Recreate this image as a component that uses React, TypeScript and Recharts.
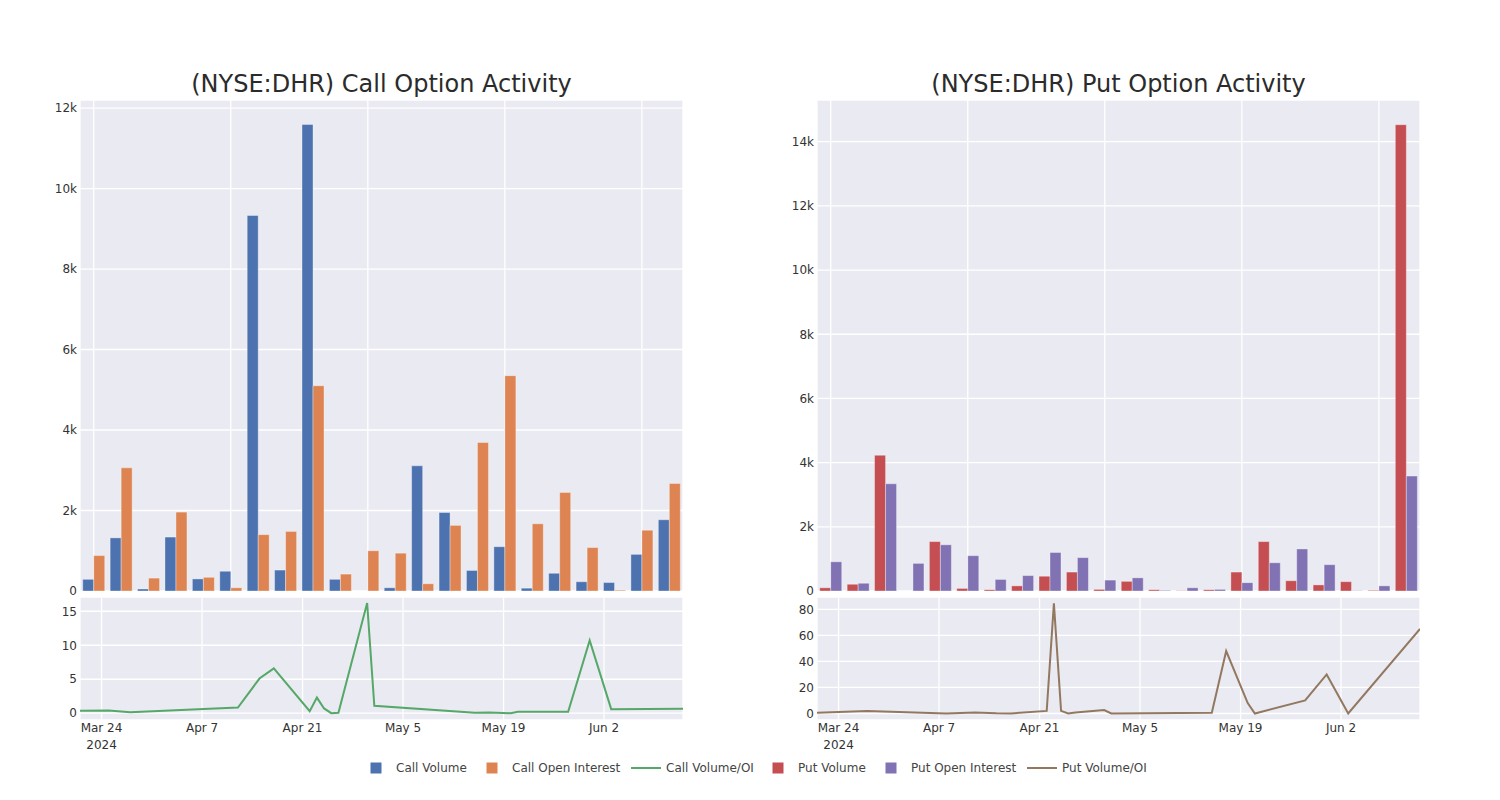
import React from "react";
import { BarChart, Bar, XAxis, YAxis, CartesianGrid, LineChart, Line } from "recharts";

// ---- data ----
const dates = [
  "2024-03-21", "2024-03-25", "2024-03-28", "2024-04-08", "2024-04-12", "2024-04-15",
  "2024-04-17", "2024-04-22", "2024-04-23", "2024-04-24", "2024-04-25", "2024-04-26",
  "2024-04-30", "2024-05-01", "2024-05-15", "2024-05-17", "2024-05-20", "2024-05-21",
  "2024-05-28", "2024-05-31", "2024-06-03", "2024-06-13",
];
const callVolume = [290, 1320, 50, 1340, 300, 490, 9330, 520, 11590, 290, 0, 80, 3110, 1950, 510, 1100, 70, 440, 230, 210, 910, 1770];
const callOpenInterest = [880, 3060, 320, 1960, 340, 80, 1400, 1480, 5100, 420, 1000, 940, 180, 1630, 3690, 5350, 1670, 2450, 1080, 20, 1510, 2670];
const callVolumeOI = [0.35, 0.4, 0.15, 0.65, 0.83, 5.1, 6.6, 0.3, 2.3, 0.7, 0, 0.05, 16.2, 1.1, 0.05, 0.1, 0, 0.2, 0.2, 10.7, 0.6, 0.65];
const putVolume = [100, 210, 4230, 0, 1540, 80, 40, 160, 460, 590, 50, 300, 40, 10, 40, 590, 1540, 320, 190, 290, 20, 14530];
const putOpenInterest = [910, 240, 3340, 860, 1440, 1100, 360, 480, 1200, 1040, 340, 410, 20, 100, 50, 260, 880, 1310, 820, 10, 160, 3580];
const putVolumeOI = [0.5, 1.3, 2, 0, 0.8, 0.1, 0, 2, 84.6, 2, 0, 0.8, 2.6, 0, 0.5, 48, 8, 0, 10, 30, 0, 65];

const callBarTicks = [0, 2000, 4000, 6000, 8000, 10000, 12000];
const putBarTicks = [0, 2000, 4000, 6000, 8000, 10000, 12000, 14000];
const callRatioTicks = [0, 5, 10, 15];
const putRatioTicks = [0, 20, 40, 60, 80];
const dateTickLabels = ["2024-03-24", "2024-04-07", "2024-04-21", "2024-05-05", "2024-05-19", "2024-06-02"];
const barGridIndices = [0, 5, 10, 15, 20];

const titles = ["(NYSE:DHR) Call Option Activity", "(NYSE:DHR) Put Option Activity"];

// ---- styling ----
const FONT = "'DejaVu Sans', Verdana, sans-serif";
const BG = "#eaeaf2";
const TEXT = "#333";
const C_BLUE = "#4c72b0";
const C_ORANGE = "#dd8452";
const C_GREEN = "#55a868";
const C_RED = "#c44e52";
const C_PURPLE = "#8172b3";
const C_BROWN = "#937860";
const MONTHS = ["Jan", "Feb", "Mar", "Apr", "May", "Jun", "Jul", "Aug", "Sep", "Oct", "Nov", "Dec"];

const toTs = (d: string) => Date.parse(d + "T00:00:00Z");

const callRows = dates.map((d, i) => ({ date: d, vol: callVolume[i], oi: callOpenInterest[i] }));
const putRows = dates.map((d, i) => ({ date: d, vol: putVolume[i], oi: putOpenInterest[i] }));
const callRatioRows = dates.map((d, i) => ({ t: toTs(d), r: callVolumeOI[i] }));
const putRatioRows = dates.map((d, i) => ({ t: toTs(d), r: putVolumeOI[i] }));
const barGridDates = barGridIndices.map((i) => dates[i]);
const dateTicks = dateTickLabels.map(toTs);
const dateDomain = [toTs(dates[0]), toTs(dates[dates.length - 1])];

const kFmt = (v: number) => (v === 0 ? "0" : `${v / 1000}k`);

const DateTick = (props: any) => {
  const { x, y, payload, index } = props;
  const d = new Date(payload.value);
  const label = `${MONTHS[d.getUTCMonth()]} ${d.getUTCDate()}`;
  return (
    <g>
      <text x={x} y={y + 12} textAnchor="middle" fontSize={12} fontFamily={FONT} fill={TEXT}>
        {label}
      </text>
      {index === 0 && (
        <text x={x} y={y + 29} textAnchor="middle" fontSize={12} fontFamily={FONT} fill={TEXT}>
          {d.getUTCFullYear()}
        </text>
      )}
    </g>
  );
};

const yTick = { fontSize: 12, fontFamily: FONT, fill: TEXT };

function BarPanel({ rows, c1, c2, domainMax, ticks }: any) {
  return (
    <BarChart
      width={700}
      height={600}
      data={rows}
      margin={{ top: 100, right: 17, bottom: 9, left: 0 }}
      barCategoryGap="10%"
      barGap={0}
    >
      <CartesianGrid fill={BG} fillOpacity={1} stroke="#ffffff" strokeWidth={1.3} />
      <XAxis dataKey="date" type="category" hide ticks={barGridDates} />
      <YAxis
        width={80}
        domain={[0, domainMax]}
        ticks={ticks}
        tickFormatter={kFmt}
        axisLine={false}
        tickLine={false}
        tickSize={0}
        tickMargin={3}
        tick={yTick}
        allowDataOverflow
      />
      <Bar dataKey="vol" fill={c1} stroke="rgba(255,255,255,0.35)" strokeWidth={1} isAnimationActive={false} />
      <Bar dataKey="oi" fill={c2} stroke="rgba(255,255,255,0.35)" strokeWidth={1} isAnimationActive={false} />
    </BarChart>
  );
}

function LinePanel({ rows, color, domain, ticks }: any) {
  return (
    <LineChart width={700} height={163} data={rows} margin={{ top: 0, right: 17, bottom: 0, left: 0 }}>
      <CartesianGrid fill={BG} fillOpacity={1} stroke="#ffffff" strokeWidth={1.3} />
      <XAxis
        dataKey="t"
        type="number"
        scale="time"
        domain={dateDomain}
        ticks={dateTicks}
        height={40}
        axisLine={false}
        tickLine={false}
        tickSize={0}
        tickMargin={0}
        tick={<DateTick />}
        interval={0}
        allowDataOverflow
      />
      <YAxis
        width={80}
        domain={domain}
        ticks={ticks}
        axisLine={false}
        tickLine={false}
        tickSize={0}
        tickMargin={3}
        tick={yTick}
        allowDataOverflow
      />
      <Line type="linear" dataKey="r" stroke={color} strokeWidth={2} dot={false} isAnimationActive={false} />
    </LineChart>
  );
}

const legendItems = [
  { label: "Call Volume", color: C_BLUE, kind: "bar", x: 396 },
  { label: "Call Open Interest", color: C_ORANGE, kind: "bar", x: 512 },
  { label: "Call Volume/OI", color: C_GREEN, kind: "line", x: 666 },
  { label: "Put Volume", color: C_RED, kind: "bar", x: 798 },
  { label: "Put Open Interest", color: C_PURPLE, kind: "bar", x: 911 },
  { label: "Put Volume/OI", color: C_BROWN, kind: "line", x: 1062 },
];

export default function App() {
  return (
    <div style={{ position: "absolute", left: 0, top: 0, width: 1500, height: 800, background: "#fff", fontFamily: FONT }}>
      <div style={{ position: "absolute", left: 0, top: 0 }}>
        <BarPanel rows={callRows} c1={C_BLUE} c2={C_ORANGE} domainMax={12200} ticks={callBarTicks} />
      </div>
      <div style={{ position: "absolute", left: 737, top: 0 }}>
        <BarPanel rows={putRows} c1={C_RED} c2={C_PURPLE} domainMax={15300} ticks={putBarTicks} />
      </div>
      <div style={{ position: "absolute", left: 0, top: 597 }}>
        <LinePanel rows={callRatioRows} color={C_GREEN} domain={[-1, 17.1]} ticks={callRatioTicks} />
      </div>
      <div style={{ position: "absolute", left: 737, top: 597 }}>
        <LinePanel rows={putRatioRows} color={C_BROWN} domain={[-5, 89.5]} ticks={putRatioTicks} />
      </div>
      <svg width={1500} height={800} style={{ position: "absolute", left: 0, top: 0, pointerEvents: "none" }}>
        <text x={381.5} y={92} textAnchor="middle" fontSize={24} fontFamily={FONT} fill="#2b2b2b">
          {titles[0]}
        </text>
        <text x={1118.5} y={92} textAnchor="middle" fontSize={24} fontFamily={FONT} fill="#2b2b2b">
          {titles[1]}
        </text>
        {legendItems.map((it) => (
          <g key={it.label}>
            {it.kind === "bar" ? (
              <rect x={it.x - 25.5} y={762.5} width={11} height={11} fill={it.color} />
            ) : (
              <line x1={it.x - 35} x2={it.x - 5} y1={768} y2={768} stroke={it.color} strokeWidth={2} />
            )}
            <text x={it.x} y={772} fontSize={12} fontFamily={FONT} fill="#444">
              {it.label}
            </text>
          </g>
        ))}
      </svg>
    </div>
  );
}
